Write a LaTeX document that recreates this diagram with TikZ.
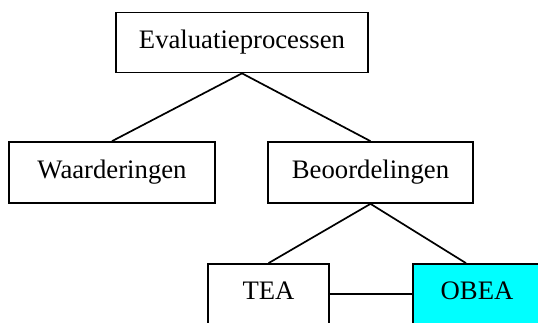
\documentclass[tikz,border=0pt]{standalone}
\usepackage{fontspec}
\setmainfont{Liberation Serif}
\definecolor{obeacyan}{RGB}{0,255,255}
\begin{document}
\begin{tikzpicture}[x=1pt,y=-1pt,
  box/.style={draw=black,line width=1.7pt,fill=white,inner sep=0pt,
    font=\fontsize{26.7}{32}\selectfont},
  link/.style={draw=black,line width=1.7pt}]
\clip (0,0) rectangle (538,323);
\fill[white] (0,0) rectangle (538,323);
% hierarchy boxes
\node[box,minimum width=252pt,minimum height=60pt] (eval) at (242,42.5) {Evaluatieprocessen};
\node[box,minimum width=206pt,minimum height=61pt] (waard) at (112,172.5) {Waarderingen};
\node[box,minimum width=205pt,minimum height=61pt] (beoord) at (370.5,172.5) {Beoordelingen};
\node[box,minimum width=121pt,minimum height=60pt,text depth=6pt] (tea) at (268.5,294) {TEA};
\node[box,fill=obeacyan,minimum width=128pt,minimum height=60pt,text depth=6pt] (obea) at (477,294) {OBEA};
% connectors
\draw[link] (eval.south) -- (waard.north);
\draw[link] (eval.south) -- (beoord.north);
\draw[link] (beoord.south) -- (tea.north);
\draw[link] (beoord.south) -- ([xshift=-11pt]obea.north);
\draw[link] (tea.east) -- (obea.west);
\end{tikzpicture}
\end{document}
